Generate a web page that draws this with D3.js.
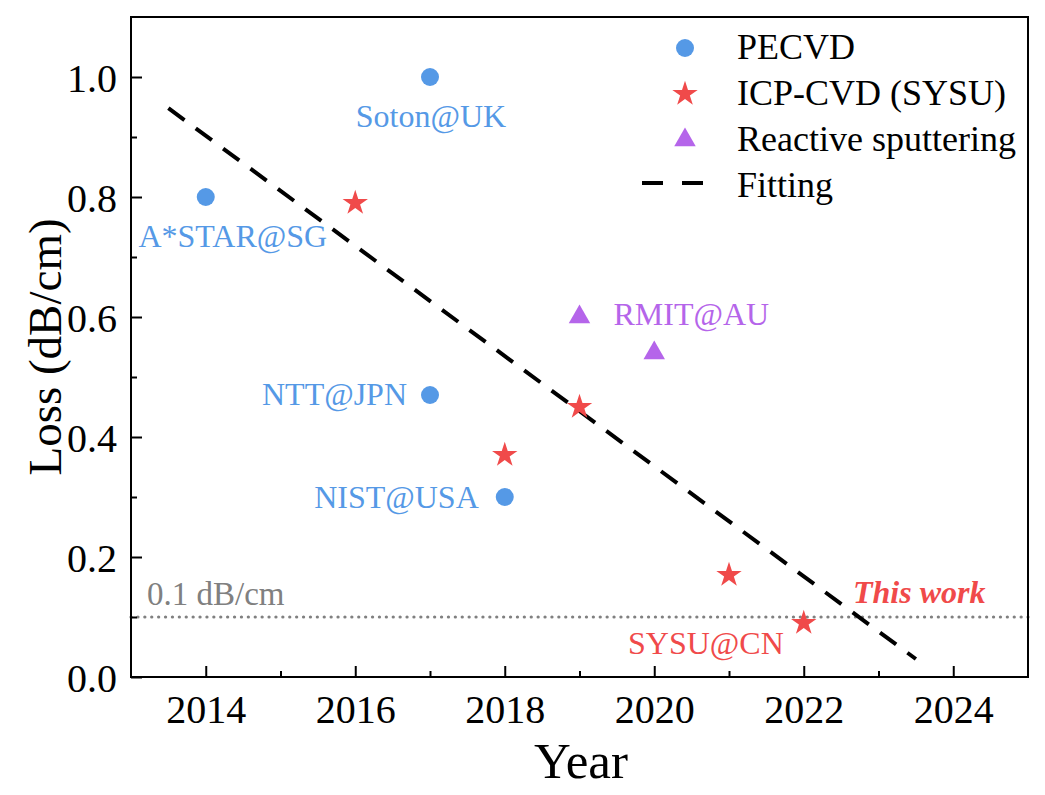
<!DOCTYPE html>
<html><head><meta charset="utf-8">
<script src="https://cdn.jsdelivr.net/npm/d3@7"></script>
<style>body{margin:0;background:#fff}</style>
</head><body>
<script>
// ---- data ----
const pecvdYears = [2014, 2017, 2017, 2018];
const pecvdLoss  = [0.80, 1.00, 0.47, 0.30];
const icpYears = [2016, 2018, 2019, 2021, 2022];
const icpLoss  = [0.79, 0.37, 0.45, 0.17, 0.09];
const sputYears = [2019, 2020];
const sputLoss  = [0.60, 0.54];
const fitYears = [2013.5, 2023.5];
const fitLoss  = [0.948, 0.030];
const refLoss = 0.1;
const xTicks = [2014, 2016, 2018, 2020, 2022, 2024];
const yTicks = [0.0, 0.2, 0.4, 0.6, 0.8, 1.0];
const legendLabels = ["PECVD", "ICP-CVD (SYSU)", "Reactive sputtering", "Fitting"];
const annotations = [
  {text: "Soton@UK", year: 2017, loss: 1.00, color: "blue"},
  {text: "A*STAR@SG", year: 2014, loss: 0.80, color: "blue"},
  {text: "NTT@JPN", year: 2017, loss: 0.47, color: "blue"},
  {text: "NIST@USA", year: 2018, loss: 0.30, color: "blue"},
  {text: "RMIT@AU", year: 2019, loss: 0.60, color: "purple"},
  {text: "SYSU@CN", year: 2022, loss: 0.09, color: "red"}
];

const W = 1045, H = 795;
const m = {l: 131, t: 17, r: 17, b: 118};
const colors = {blue: "#5599e6", red: "#f04a4a", purple: "#b565ea"};
const font = "'Liberation Serif','Times New Roman',serif";

const svg = d3.select("body").append("svg").attr("width", W).attr("height", H)
  .style("font-family", font);

const x = d3.scaleLinear().domain([2013, 2025]).range([m.l, W - m.r]);
const y = d3.scaleLinear().domain([0, 1.1]).range([H - m.b, m.t]);

// reference line
svg.append("line")
  .attr("x1", x(2013)).attr("x2", x(2025))
  .attr("y1", y(refLoss)).attr("y2", y(refLoss))
  .attr("stroke", "#808080").attr("stroke-width", 3.2)
  .attr("stroke-dasharray", "0.1,6.8").attr("stroke-linecap", "round");
svg.append("text").attr("x", 147).attr("y", 605)
  .attr("font-size", 33).attr("fill", "#808080").text("0.1 dB/cm");

// fit line
const line = d3.line().x(d => x(d[0])).y(d => y(d[1]));
svg.append("path")
  .datum(fitYears.map((v, i) => [v, fitLoss[i]]))
  .attr("d", line).attr("fill", "none").attr("stroke", "#000")
  .attr("stroke-width", 4).attr("stroke-dasharray", "20,14");

// markers
function drawSym(years, vals, type, size, color) {
  svg.append("g").selectAll("path").data(years.map((v, i) => [v, vals[i]]))
    .join("path")
    .attr("transform", d => `translate(${x(d[0])},${y(d[1])})`)
    .attr("d", d3.symbol().type(type).size(size))
    .attr("fill", color);
}
drawSym(pecvdYears, pecvdLoss, d3.symbolCircle, 254, colors.blue);
drawSym(icpYears, icpLoss, d3.symbolStar, 200, colors.red);
drawSym(sputYears, sputLoss, d3.symbolTriangle, 200, colors.purple);

// annotations
const annPos = {
  "Soton@UK": {dx: 1, dy: 50, anchor: "middle"},
  "A*STAR@SG": {dx: 27, dy: 50, anchor: "middle"},
  "NTT@JPN": {dx: -23, dy: 10, anchor: "end"},
  "NIST@USA": {dx: -26, dy: 11, anchor: "end"},
  "RMIT@AU": {dx: 34, dy: 8, anchor: "start"},
  "SYSU@CN": {dx: -20, dy: 31, anchor: "end"}
};
annotations.forEach(a => {
  const p = annPos[a.text];
  svg.append("text").attr("x", x(a.year) + p.dx).attr("y", y(a.loss) + p.dy)
    .attr("text-anchor", p.anchor).attr("font-size", 32)
    .attr("fill", colors[a.color]).text(a.text);
});
svg.append("text").attr("x", 853).attr("y", 603)
  .attr("font-size", 32).attr("font-weight", "bold").attr("font-style", "italic")
  .attr("fill", colors.red).text("This work");

// axes frame
svg.append("rect").attr("x", m.l).attr("y", m.t)
  .attr("width", W - m.l - m.r).attr("height", H - m.t - m.b)
  .attr("fill", "none").attr("stroke", "#000").attr("stroke-width", 2);

const xAxis = svg.append("g").attr("transform", `translate(0,${H - m.b})`)
  .call(d3.axisBottom(x).tickValues(xTicks).tickFormat(d3.format("d"))
    .tickSizeInner(-11).tickSizeOuter(0).tickPadding(18));
const xMinor = svg.append("g").attr("transform", `translate(0,${H - m.b})`)
  .call(d3.axisBottom(x).tickValues(d3.range(2015, 2025, 2)).tickFormat("")
    .tickSizeInner(-6).tickSizeOuter(0));
const yAxis = svg.append("g").attr("transform", `translate(${m.l},0)`)
  .call(d3.axisLeft(y).tickValues(yTicks).tickFormat(d3.format(".1f"))
    .tickSizeInner(-11).tickSizeOuter(0).tickPadding(14));
const yMinor = svg.append("g").attr("transform", `translate(${m.l},0)`)
  .call(d3.axisLeft(y).tickValues([0.1, 0.3, 0.5, 0.7, 0.9]).tickFormat("")
    .tickSizeInner(-6).tickSizeOuter(0));
[xAxis, xMinor, yAxis, yMinor].forEach(g => {
  g.select(".domain").remove();
  g.selectAll("line").attr("stroke", "#000").attr("stroke-width", 2);
  g.selectAll("text").attr("font-family", font).attr("font-size", 40).attr("fill", "#000");
});
xAxis.selectAll("text").attr("dy", "0.71em");
yAxis.selectAll("text").attr("dy", "0.35em");

// axis titles
svg.append("text").attr("x", 581).attr("y", 778).attr("text-anchor", "middle")
  .attr("font-size", 51).text("Year");
svg.append("text").attr("transform", "translate(61,347) rotate(-90)")
  .attr("text-anchor", "middle").attr("font-size", 47).text("Loss (dB/cm)");

// legend
const lg = svg.append("g");
const rowY = [48, 94, 140, 186];
const symTypes = [d3.symbolCircle, d3.symbolStar, d3.symbolTriangle];
const symSizes = [254, 200, 200];
const symColors = [colors.blue, colors.red, colors.purple];
legendLabels.forEach((lab, i) => {
  if (i < 3) {
    lg.append("path").attr("transform", `translate(685,${rowY[i]})`)
      .attr("d", d3.symbol().type(symTypes[i]).size(symSizes[i]))
      .attr("fill", symColors[i]);
  } else {
    lg.append("line").attr("x1", 642).attr("x2", 704)
      .attr("y1", rowY[i] - 3).attr("y2", rowY[i] - 3)
      .attr("stroke", "#000").attr("stroke-width", 4).attr("stroke-dasharray", "21,19");
  }
  lg.append("text").attr("x", 737).attr("y", rowY[i] + 11)
    .attr("font-size", 36).text(lab);
});
</script>
</body></html>
